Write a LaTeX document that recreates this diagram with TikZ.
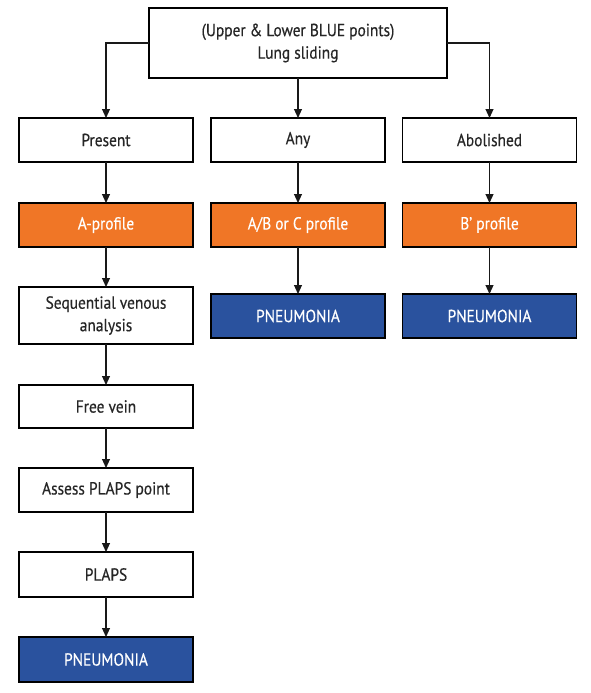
\documentclass[tikz,border=0pt]{standalone}
\usepackage{fontspec}
\setmainfont{PT Sans}[FakeStretch=0.88,FakeBold=0.4]
\usetikzlibrary{arrows.meta}
\definecolor{orng}{RGB}{240,118,38}
\definecolor{blu}{RGB}{42,82,158}
\tikzset{
  box/.style={draw=black, line width=1.1pt, fill=white, inner sep=0pt, outer sep=0pt, minimum width=174pt, minimum height=44pt, align=center, font=\fontsize{17.5}{22.5}\selectfont, text=black!85},
  obox/.style={box, fill=orng, text=white},
  bbox/.style={box, fill=blu, text=white},
  arr/.style={draw=black!90, line width=1.1pt, -{Triangle[width=8pt,length=9pt]}}
}
\begin{document}
\begin{tikzpicture}[x=1pt,y=-1pt]
\useasboundingbox (0,0) rectangle (590,693);
\node[box, minimum width=298pt, minimum height=70pt] (top) at (298,43) {(Upper \& Lower BLUE points)\\Lung sliding};
\node[box] (present) at (106,140) {Present};
\node[box] (any) at (298,140) {Any};
\node[box] (abol) at (489.5,140) {Abolished};
\node[obox] (aprof) at (106,225) {A-profile};
\node[obox] (abprof) at (298,225) {A/B or C profile};
\node[obox] (bprof) at (489.5,225) {B' profile};
\node[bbox] (pn2) at (298,316) {PNEUMONIA};
\node[bbox] (pn3) at (489.5,316) {PNEUMONIA};
\node[box, minimum height=57pt] (seq) at (106,315.5) {Sequential venous\\analysis};
\node[box, minimum height=43pt] (free) at (106,406.5) {Free vein};
\node[box] (assess) at (106,490) {Assess PLAPS point};
\node[box, minimum height=45pt] (plaps) at (106,574.5) {PLAPS};
\node[bbox, minimum height=45pt] (pn1) at (106,659.5) {PNEUMONIA};
\draw[arr] (top.west) -| (present.north);
\draw[arr] (top.east) -| (abol.north);
\draw[arr] (top.south) -- (any.north);
\draw[arr] (present) -- (aprof);
\draw[arr] (any) -- (abprof);
\draw[arr] (abol) -- (bprof);
\draw[arr] (abprof) -- (pn2);
\draw[arr] (bprof) -- (pn3);
\draw[arr] (aprof) -- (seq);
\draw[arr] (seq) -- (free);
\draw[arr] (free) -- (assess);
\draw[arr] (assess) -- (plaps);
\draw[arr] (plaps) -- (pn1);
\end{tikzpicture}
\end{document}
